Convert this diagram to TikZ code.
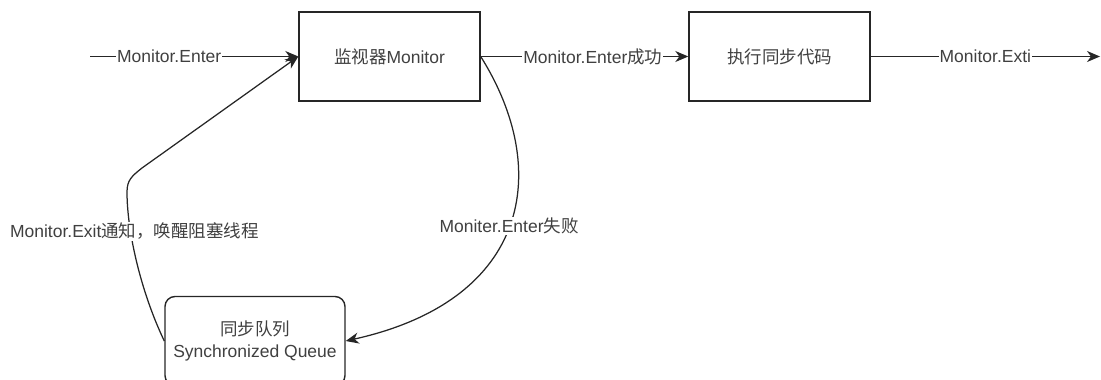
\documentclass[tikz,border=0pt]{standalone}
\usepackage{fontspec}
\setmainfont{Liberation Sans}
\newfontfamily\cjk{Noto Sans CJK SC}
\newcommand{\zh}[1]{{\cjk #1}}
\usetikzlibrary{arrows,arrows.meta}

\begin{document}
\begin{tikzpicture}[x=1pt,y=-1pt,->,>={Stealth[length=13pt,width=11pt,inset=4pt]},
    line width=1.25pt,draw=black!85,text=black!75,font=\fontsize{17.5}{22}\selectfont,
    base node/.style={rectangle,draw,line width=1.4pt,minimum width=181pt,minimum height=89pt,inner sep=0pt},
    queue node/.style={base node,rounded corners=10pt,align=center,minimum width=180pt},
    edge label/.style={fill=white,inner sep=1pt}]

	\useasboundingbox (0,0) rectangle (1101,380);

	\node[base node] (monitor) at (389.5,56.5) {\zh{监视器}Monitor};
	\node[base node] (exec) at (779.5,56.5) {\zh{执行同步代码}};
	\node[queue node] (queue) at (255,341) {\zh{同步队列}\\Synchronized Queue};
	\coordinate (start) at (90,56.5);
	\coordinate (end) at (1100,56.5);
	\coordinate (bend) at (127,192);

	\path[]
	(start) edge node[edge label,pos=0.38] {Monitor.Enter} (monitor)
	(monitor) edge node[edge label,pos=0.54] {Monitor.Enter\zh{成功}} (exec)
	(exec) edge node[edge label] {Monitor.Exti} (end);

	\draw (monitor.east) .. controls (552,170) and (530,300) .. node[edge label] {Moniter.Enter\zh{失败}} (queue.east);
	\draw (queue.west) .. controls (140,290) and (127,230) .. node[edge label,pos=0.7,xshift=4pt] {Monitor.Exit\zh{通知，唤醒阻塞线程}} (bend)
	.. controls (127,180) and (132,176) .. (142,168) -- (monitor.west);

\end{tikzpicture}
\end{document}
